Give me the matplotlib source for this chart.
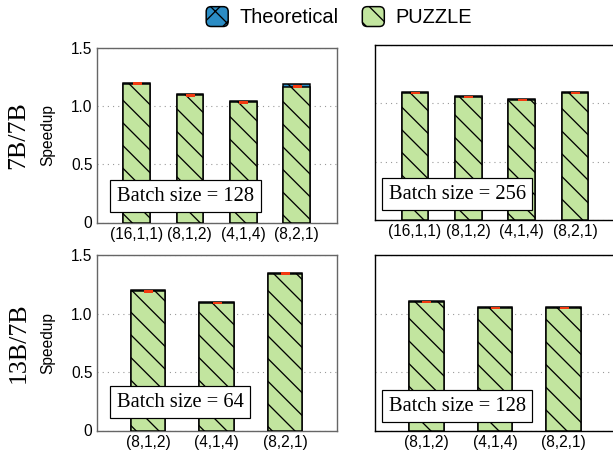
import numpy as np
import matplotlib
matplotlib.use('Agg')
import matplotlib.pyplot as plt
from matplotlib.patches import Patch, FancyBboxPatch
from matplotlib.legend_handler import HandlerPatch

DPI = 136


def pt(px):
    # pixel sizes -> points at the output dpi
    return px * 72 / DPI


# parallel configs on the x axis
configs_7b = ['(16,1,1)', '(8,1,2)', '(4,1,4)', '(8,2,1)']
configs_13b = ['(8,1,2)', '(4,1,4)', '(8,2,1)']

# speedup values per panel
theo_7b_bs128 = [1.20, 1.10, 1.04, 1.19]
puzzle_7b_bs128 = [1.19, 1.09, 1.03, 1.165]
err_7b_bs128 = [0.002, 0.002, 0.002, 0.002]

theo_7b_bs256 = [1.10, 1.065, 1.04, 1.10]
puzzle_7b_bs256 = [1.09, 1.055, 1.03, 1.09]
err_7b_bs256 = [0.002, 0.002, 0.002, 0.002]

theo_13b_bs64 = [1.20, 1.10, 1.35]
puzzle_13b_bs64 = [1.19, 1.09, 1.34]
err_13b_bs64 = [0.002, 0.002, 0.002]

theo_13b_bs128 = [1.11, 1.055, 1.055]
puzzle_13b_bs128 = [1.10, 1.045, 1.045]
err_13b_bs128 = [0.002, 0.002, 0.002]

THEO_COLOR = '#2b8cc4'
PUZZLE_COLOR = '#c2e59f'
ERR_COLOR = '#f23a10'
THEO_HATCH = 'xx'
PUZZLE_HATCH = '\\\\'

plt.rcParams['font.family'] = 'Liberation Sans'
plt.rcParams['hatch.color'] = 'black'
plt.rcParams['hatch.linewidth'] = pt(1.3)

fig = plt.figure(figsize=(613 / DPI, 457 / DPI), dpi=DPI)
W, H = 613, 457


def add_axes(left, top, right, bottom):
    return fig.add_axes([left / W, 1 - bottom / H, (right - left) / W, (bottom - top) / H])


ax_tl = add_axes(96.5, 47.5, 336.5, 222.5)
ax_tr = add_axes(375, 45, 615, 220)
ax_bl = add_axes(96.5, 255, 336.5, 430.5)
ax_br = add_axes(375, 255, 615, 430.5)


def draw_panel(ax, labels, theo, puzzle, err, batch, box_xy, spine_color, ylabels):
    x = np.arange(len(labels))
    ax.bar(x, theo, width=0.5, color=THEO_COLOR, edgecolor='black',
           linewidth=pt(1.5), hatch=THEO_HATCH, zorder=2)
    ax.bar(x, puzzle, width=0.5, color=PUZZLE_COLOR, edgecolor='black',
           linewidth=pt(1.5), hatch=PUZZLE_HATCH, zorder=3)
    ax.errorbar(x, puzzle, yerr=err, fmt='none', ecolor=ERR_COLOR,
                elinewidth=pt(2), capsize=pt(4.5), capthick=pt(2), zorder=4)
    ax.set_xlim(-0.75, len(labels) - 0.25)
    ax.set_ylim(0, 1.5)
    ax.set_yticks([0, 0.5, 1.0, 1.5])
    ax.set_yticklabels(['0', '0.5', '1.0', '1.5'] if ylabels else [])
    ax.set_xticks(x)
    ax.set_xticklabels(labels)
    ax.tick_params(length=0, labelsize=pt(15.5), pad=pt(4))
    ax.grid(axis='y', linestyle=(0, (1, 3.7)), linewidth=pt(1.1), color='#999999')
    ax.set_axisbelow(True)
    for s in ax.spines.values():
        s.set_color(spine_color)
        s.set_linewidth(pt(1.4))
    ax.text(box_xy[0], box_xy[1], f'Batch size = {batch}', transform=ax.transAxes,
            ha='center', va='center', family='Liberation Serif', fontsize=pt(20.5),
            bbox=dict(boxstyle='square,pad=0.33', fc='white', ec='black', lw=pt(1.2)),
            zorder=5)
    if ylabels:
        ax.set_ylabel('Speedup', fontsize=pt(15.5))
        ax.yaxis.set_label_coords(-0.17, 0.5)


draw_panel(ax_tl, configs_7b, theo_7b_bs128, puzzle_7b_bs128, err_7b_bs128, 128,
           (0.371, 0.151), '#666666', True)
draw_panel(ax_tr, configs_7b, theo_7b_bs256, puzzle_7b_bs256, err_7b_bs256, 256,
           (0.342, 0.148), 'black', False)
draw_panel(ax_bl, configs_13b, theo_13b_bs64, puzzle_13b_bs64, err_13b_bs64, 64,
           (0.349, 0.162), '#666666', True)
draw_panel(ax_br, configs_13b, theo_13b_bs128, puzzle_13b_bs128, err_13b_bs128, 128,
           (0.342, 0.139), 'black', False)

# row labels
fig.text(18.5 / W, 1 - 135 / H, '7B/7B', rotation=90, ha='center', va='center',
         family='Liberation Serif', fontsize=pt(26))
fig.text(18.5 / W, 1 - 343 / H, '13B/7B', rotation=90, ha='center', va='center',
         family='Liberation Serif', fontsize=pt(26))


def rounded_patch(legend, orig_handle, xdescent, ydescent, width, height, fontsize):
    return FancyBboxPatch((-xdescent, -ydescent), width, height,
                          boxstyle=f'round,pad=0,rounding_size={0.25 * height}')


handles = [
    Patch(facecolor=THEO_COLOR, edgecolor='black', hatch=THEO_HATCH, linewidth=pt(1.5),
          label='Theoretical'),
    Patch(facecolor=PUZZLE_COLOR, edgecolor='black', hatch=PUZZLE_HATCH, linewidth=pt(1.5),
          label='PUZZLE'),
]
fig.legend(handles=handles, loc='center', bbox_to_anchor=(339 / W, 1 - 17 / H), ncol=2,
           frameon=False, prop={'family': 'Liberation Sans', 'size': pt(20)},
           handlelength=1.1, handleheight=1.15, handletextpad=0.55, columnspacing=1.2,
           handler_map={Patch: HandlerPatch(patch_func=rounded_patch)})

fig.savefig('out.png', dpi=DPI)
